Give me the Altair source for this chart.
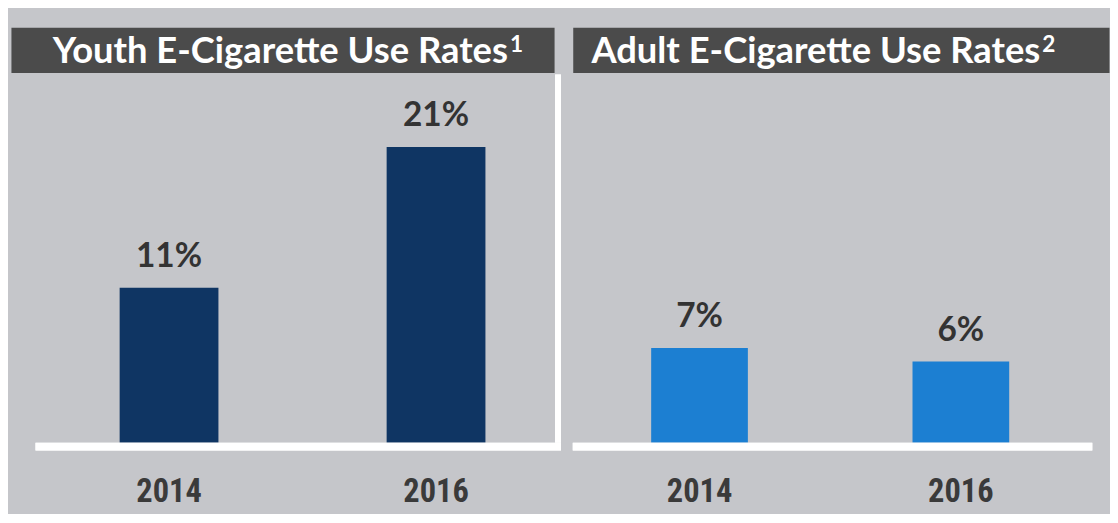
import altair as alt
import pandas as pd

years = ["2014", "2016"]
youth_rates = [11, 21]
adult_rates = [7, 6]
youth_labels = ["11%", "21%"]
adult_labels = ["7%", "6%"]
titles = ["Youth E-Cigarette Use Rates", "Adult E-Cigarette Use Rates"]
title_notes = ["1", "2"]

BG = "#c5c6ca"
TITLE_BG = "#4b4b4b"
NAVY = "#0f3563"
BLUE = "#1c7fd2"
PLOT_H = 377


def panel(title, note, note_x, values, labels, color, title_w, width, y_max,
          pad_outer, align, base_x1, base_x2, divider):
    df = pd.DataFrame({"year": years, "rate": values, "label": labels})
    tdf = pd.DataFrame({"title": [title], "note": [note]})
    head_main = alt.Chart(tdf).mark_text(
        font="Lato", fontWeight="bold", fontSize=37, color="white",
        align="right", baseline="alphabetic"
    ).encode(text="title:N", x=alt.value(note_x - 2), y=alt.value(36))
    head_note = alt.Chart(tdf).mark_text(
        font="Lato", fontWeight="bold", fontSize=23, color="white",
        align="left", baseline="alphabetic"
    ).encode(text="note:N", x=alt.value(note_x), y=alt.value(25))
    head = alt.layer(head_main, head_note).properties(
        width=title_w, height=46,
        view=alt.ViewBackground(fill=TITLE_BG, stroke="transparent")
    )

    x = alt.X(
        "year:N", sort=years,
        scale=alt.Scale(paddingInner=0.63, paddingOuter=pad_outer, align=align),
        axis=alt.Axis(
            title=None, domain=False, ticks=False, grid=False, labelAngle=0,
            labelFont="Liberation Sans Narrow, Arial Narrow, Roboto Condensed, sans-serif",
            labelFontSize=33, labelFontWeight="bold", labelColor="#3a3a3a",
            labelPadding=34, labelBaseline="top"
        ),
    )
    y = alt.Y("rate:Q", scale=alt.Scale(domain=[0, y_max], nice=False), axis=None)
    base = alt.Chart(df)
    bars = base.mark_bar(color=color).encode(x=x, y=y)
    text = base.mark_text(
        font="Lato", fontWeight="bold", fontSize=34, color="#333333",
        baseline="alphabetic", dy=-21
    ).encode(x=x, y=y, text="label:N")
    rule = base.mark_rule(color="white", strokeWidth=8, yOffset=4).encode(
        x=alt.value(base_x1), x2=alt.value(base_x2), y=alt.datum(0)
    )
    layers = [bars, text, rule]
    if divider is not None:
        div = base.mark_rule(color="white", strokeWidth=6).encode(
            x=alt.value(divider), y=alt.value(2), y2=alt.value(PLOT_H)
        )
        layers.append(div)
    body = alt.layer(*layers).properties(width=width, height=PLOT_H)
    return alt.vconcat(head, body, spacing=0, bounds="flush")


left = panel(titles[0], title_notes[0], 508, youth_rates, youth_labels, NAVY,
             553, 560, 26.3, 0.345, 0.59, 25, 560, 557)
right = panel(titles[1], title_notes[1], 478, adult_rates, adult_labels, BLUE,
              546, 546, 27.4, 0.341, 0.44, 0, 529, None)

chart = alt.hconcat(left, right, spacing=2).properties(
    padding={"top": 14, "left": 2, "right": 0, "bottom": 0},
    background=BG,
).configure_view(stroke="transparent")

chart.save("out.html", embed_options={"renderer": "svg", "actions": False})
